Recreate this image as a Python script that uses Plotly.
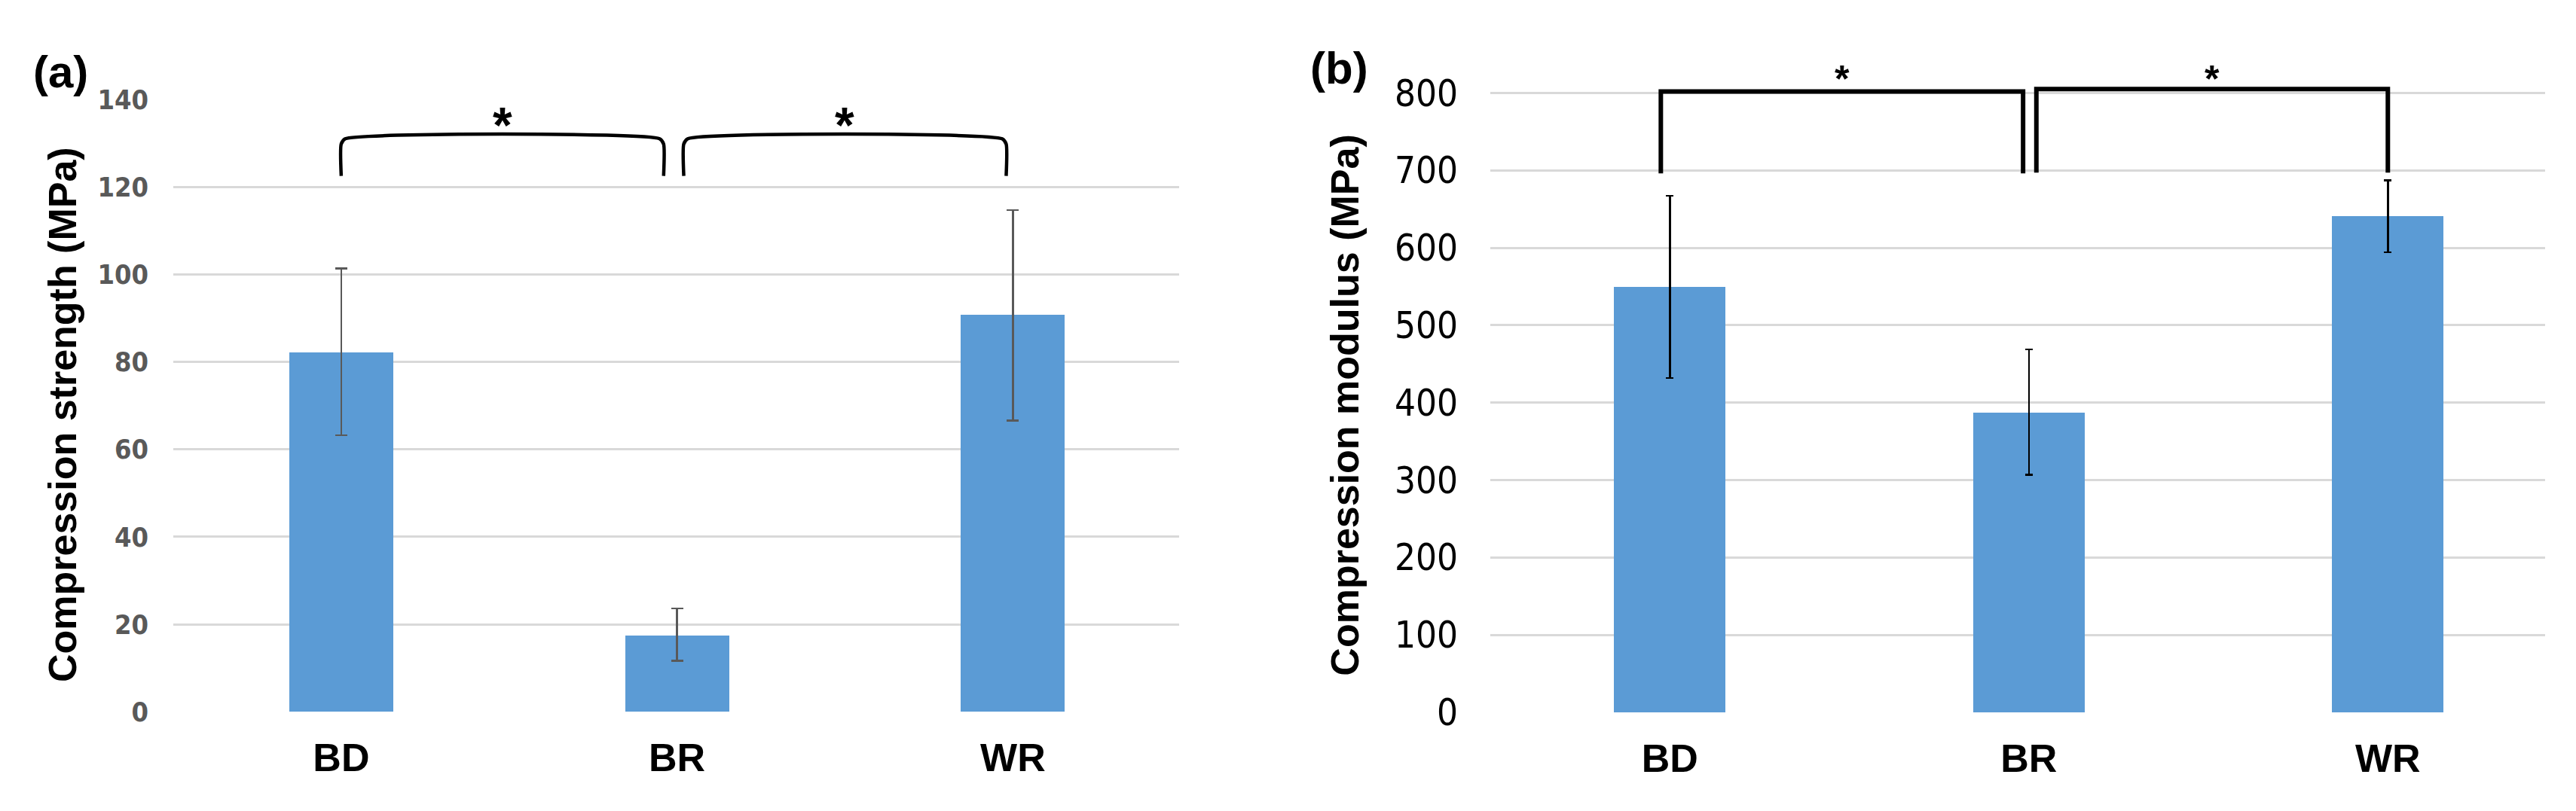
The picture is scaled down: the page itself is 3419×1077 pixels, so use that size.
import plotly.graph_objects as go

# ---------------- data ----------------
categories = ["BD", "BR", "WR"]

strength_mean = [82.2, 17.5, 90.7]
strength_err_plus = [19.2, 6.1, 24.0]
strength_err_minus = [19.0, 5.8, 24.1]

modulus_mean = [549, 387, 641]
modulus_err_plus = [118, 82, 46]
modulus_err_minus = [117, 80, 47]

strength_ticks = [0, 20, 40, 60, 80, 100, 120, 140]
modulus_ticks = [0, 100, 200, 300, 400, 500, 600, 700, 800]
strength_max = 140
modulus_max = 845   # headroom above the 800 gridline for brackets / stars

# significance brackets: (start category idx, end category idx, top level, foot level)
strength_brackets = [(0.0, 0.96, 131.0, 122.5), (1.02, 1.98, 131.0, 122.5)]
modulus_brackets = [(-0.025, 0.984, 802, 696), (1.021, 2.0, 805, 697)]
strength_star_level = 134.2
modulus_star_level = 818

BAR_COLOR = "#5b9bd5"
GRID = "#d9d9d9"
FONT = "Liberation Sans"
NARROW = "Liberation Sans Narrow, DejaVu Sans Condensed, Liberation Sans"

x_idx = list(range(len(categories)))

fig = go.Figure()

# panel (a)
fig.add_trace(go.Bar(
    x=x_idx, y=strength_mean, width=0.31, marker=dict(color=BAR_COLOR, line=dict(width=0)),
    error_y=dict(type="data", array=strength_err_plus, arrayminus=strength_err_minus,
                 color="#595959", thickness=2.5, width=8),
    xaxis="x", yaxis="y", showlegend=False, hoverinfo="skip"))

# panel (b)
fig.add_trace(go.Bar(
    x=x_idx, y=modulus_mean, width=0.31, marker=dict(color=BAR_COLOR, line=dict(width=0)),
    error_y=dict(type="data", array=modulus_err_plus, arrayminus=modulus_err_minus,
                 color="#000000", thickness=2.5, width=5),
    xaxis="x2", yaxis="y2", showlegend=False, hoverinfo="skip"))

# brackets
def bracket_trace(x0, x1, top, foot, xa, ya, lw, rounded, r_x, r_y):
    if rounded:
        xs = [x0, x0, x0 + r_x, x1 - r_x, x1, x1]
        ys = [foot, top - r_y, top, top, top - r_y, foot]
        shape = "spline"
    else:
        xs = [x0, x0, x1, x1]
        ys = [foot, top, top, foot]
        shape = "linear"
    return go.Scatter(x=xs, y=ys, mode="lines", cliponaxis=False,
                      line=dict(color="black", width=lw, shape=shape, smoothing=0.6),
                      xaxis=xa, yaxis=ya, showlegend=False, hoverinfo="skip")

for (x0, x1, top, foot) in strength_brackets:
    fig.add_trace(bracket_trace(x0, x1, top, foot, "x", "y", 4.5, True, 0.012, 1.2))
for (x0, x1, top, foot) in modulus_brackets:
    fig.add_trace(bracket_trace(x0, x1, top, foot, "x2", "y2", 6, False, 0, 0))

annotations = []
for (x0, x1, top, foot) in strength_brackets:
    annotations.append(dict(x=(x0 + x1) / 2, y=strength_star_level,
                            xref="x", yref="y",
                            text="<b>*</b>", showarrow=False, yanchor="middle",
                            font=dict(family=FONT, size=66, color="black")))
for (x0, x1, top, foot) in modulus_brackets:
    annotations.append(dict(x=(x0 + x1) / 2, y=modulus_star_level,
                            xref="x2", yref="y2",
                            text="<b>*</b>", showarrow=False, yanchor="middle",
                            font=dict(family=FONT, size=50, color="black")))

# panel labels
annotations.append(dict(x=72 / 3419, y=1 - 71 / 1077, xref="paper", yref="paper",
                        text="<b>(a)</b>", showarrow=False, xanchor="center", yanchor="middle",
                        font=dict(family=FONT, size=60, color="black")))
annotations.append(dict(x=1769 / 3419, y=1 - 65 / 1077, xref="paper", yref="paper",
                        text="<b>(b)</b>", showarrow=False, xanchor="center", yanchor="middle",
                        font=dict(family=FONT, size=60, color="black")))

# y-axis titles
annotations.append(dict(x=75 / 3419, y=1 - 548 / 1077, xref="paper", yref="paper",
                        text="<b>Compression strength (MPa)</b>", textangle=-90, showarrow=False,
                        xanchor="center", yanchor="middle",
                        font=dict(family=FONT, size=52, color="black")))
annotations.append(dict(x=1777 / 3419, y=1 - 535 / 1077, xref="paper", yref="paper",
                        text="<b>Compression modulus (MPa)</b>", textangle=-90, showarrow=False,
                        xanchor="center", yanchor="middle",
                        font=dict(family=FONT, size=52, color="black")))

xaxis_common = dict(tickmode="array", tickvals=x_idx, ticktext=[f"<b>{c}</b>" for c in categories],
                    showgrid=False, zeroline=False, showline=False, ticks="",
                    tickfont=dict(family=FONT, size=52, color="black"), fixedrange=True)

px_per_unit_b = (961.7 - 100) / 800
top_b = 961.7 - modulus_max * px_per_unit_b

fig.update_layout(
    width=3419, height=1077,
    margin=dict(l=0, r=0, t=0, b=0),
    paper_bgcolor="white", plot_bgcolor="white",
    bargap=0,
    xaxis=dict(domain=[222 / 3419, 1557 / 3419], range=[-0.5, 2.495], anchor="y",
               ticklabelstandoff=26, **xaxis_common),
    xaxis2=dict(domain=[1970 / 3419, 3370 / 3419], range=[-0.5, 2.438], anchor="y2",
                ticklabelstandoff=26, **xaxis_common),
    yaxis=dict(domain=[1 - 961 / 1077, 1 - 109 / 1077], range=[0, strength_max], anchor="x",
               tickmode="array", tickvals=strength_ticks,
               showgrid=True, gridcolor=GRID, gridwidth=3, zeroline=False, showline=False,
               ticks="", ticklabelstandoff=32,
               tickfont=dict(family=NARROW, size=36, color="#595959", weight="bold")),
    yaxis2=dict(domain=[1 - 961.7 / 1077, 1 - top_b / 1077], range=[0, modulus_max], anchor="x2",
                tickmode="array", tickvals=modulus_ticks,
                showgrid=True, gridcolor=GRID, gridwidth=3, zeroline=False, showline=False,
                ticks="", ticklabelstandoff=42,
                tickfont=dict(family=NARROW, size=49, color="black")),
    annotations=annotations,
)

fig.write_html("out.html")
